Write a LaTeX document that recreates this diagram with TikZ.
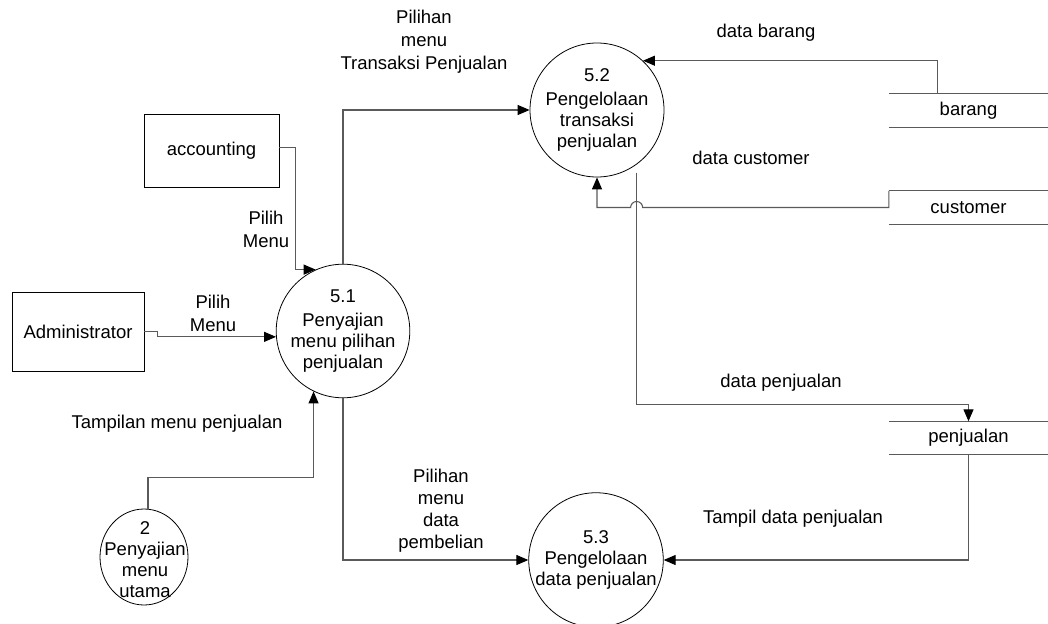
\documentclass[tikz,border=0pt]{standalone}
\usepackage{fontspec}
\setmainfont{Liberation Sans}
\usetikzlibrary{arrows.meta,calc,shapes.geometric}
\definecolor{linegray}{RGB}{90,90,90}
\begin{document}
\begin{tikzpicture}[x=1pt,y=-1pt,
  every node/.style={font=\fontsize{18.5}{21}\selectfont},
  proc/.style={draw=black, line width=0.8pt, circle, inner sep=0pt, align=center, minimum size=#1},
  ent/.style={draw=black, line width=0.8pt, rectangle, inner sep=0pt},
  store/.style={inner sep=0pt, minimum width=159pt, minimum height=33pt},
  flow/.style={draw=linegray, line width=1.1pt, -{Triangle[length=12pt,width=10pt,color=black]}},
  plain/.style={draw=linegray, line width=1.1pt},
  lbl/.style={align=center, font=\fontsize{18.5}{23}\selectfont},
  lbltight/.style={align=center, font=\fontsize{18.5}{22}\selectfont}
]
\fill[white] (0,0) rectangle (1048,623);
\useasboundingbox (0,0) rectangle (1048,623);

% processes
\node[proc=128pt] (c51) at (343,331) {5.1\\[3pt]Penyajian\\menu pilihan\\penjualan};
\node[proc=134pt] (c52) at (597,110) {5.2\\[3pt]Pengelolaan\\transaksi\\penjualan};
\node[proc=134pt] (c53) at (596,560) {5.3\\Pengelolaan\\data penjualan};
\node[draw=black, line width=0.8pt, ellipse, inner sep=0pt, minimum width=88pt, minimum height=96pt] (c2) at (144,557) {};
\node[align=center] (t2) at (145,560) {2\\Penyajian\\menu\\utama};

% entities
\node[ent, minimum width=135pt, minimum height=73pt] (acc) at (211.5,150.5) {accounting};
\node[ent, minimum width=132pt, minimum height=79pt] (adm) at (78,331.5) {Administrator};

% data stores
\node[store] (bar) at (968.5,110.5) {barang};
\node[store] (cus) at (968.5,207.5) {customer};
\node[store] (pen) at (968.5,438) {penjualan};
\draw[plain] (bar.north west) -- (bar.north east);
\draw[plain] (bar.south west) -- (bar.south east);
\draw[plain] (cus.north west) -- (cus.north east);
\draw[plain] (cus.south west) -- (cus.south east);
\draw[plain] (pen.north west) -- (pen.north east);
\draw[plain] (pen.south west) -- (pen.south east);

% flows
\draw[flow] ([yshift=3pt]acc.east) -- ++(16,0) |- (c51.114);
\draw[flow] (adm.east) -- ++(13,0) |- (c51.185);
\draw[flow] ([xshift=4pt]c2.north) -- ++(0,-31) -| (c51.244);
\draw[flow] (c51.north) |- (c52.west);
\draw[flow] (c51.south) |- (c53.west);
\draw[flow] ($(bar.north west)+(49,0)$) |- (c52.47);
\draw[flow, shorten <=8pt] (c52.-54) |- ($(pen.north)+(0,-17)$) -- (pen.north);
\draw[flow] (cus.north west) -- (cus.west) -- ($(cus.west -| c52.-54)+(6,0)$)
  arc[start angle=0, end angle=180, radius=6pt] -| (c52.south);
\draw[flow] (pen.south) |- (c53.east);

% labels
\node[lbl] (l1) at (424,42) {Pilihan\\menu\\Transaksi Penjualan};
\node[lbl] (l2) at (766,33) {data barang};
\node[lbl] (l3) at (751,158) {data customer};
\node[lbl] (l4) at (266,229) {Pilih\\Menu};
\node[lbl] (l5) at (213,313) {Pilih\\Menu};
\node[lbl] (l6) at (177,424) {Tampilan menu penjualan};
\node[lbl] (l7) at (781,383) {data penjualan};
\node[lbltight] (l8) at (441,511) {Pilihan\\menu\\data\\pembelian};
\node[lbl] (l9) at (793,519) {Tampil data penjualan};
\end{tikzpicture}
\end{document}
